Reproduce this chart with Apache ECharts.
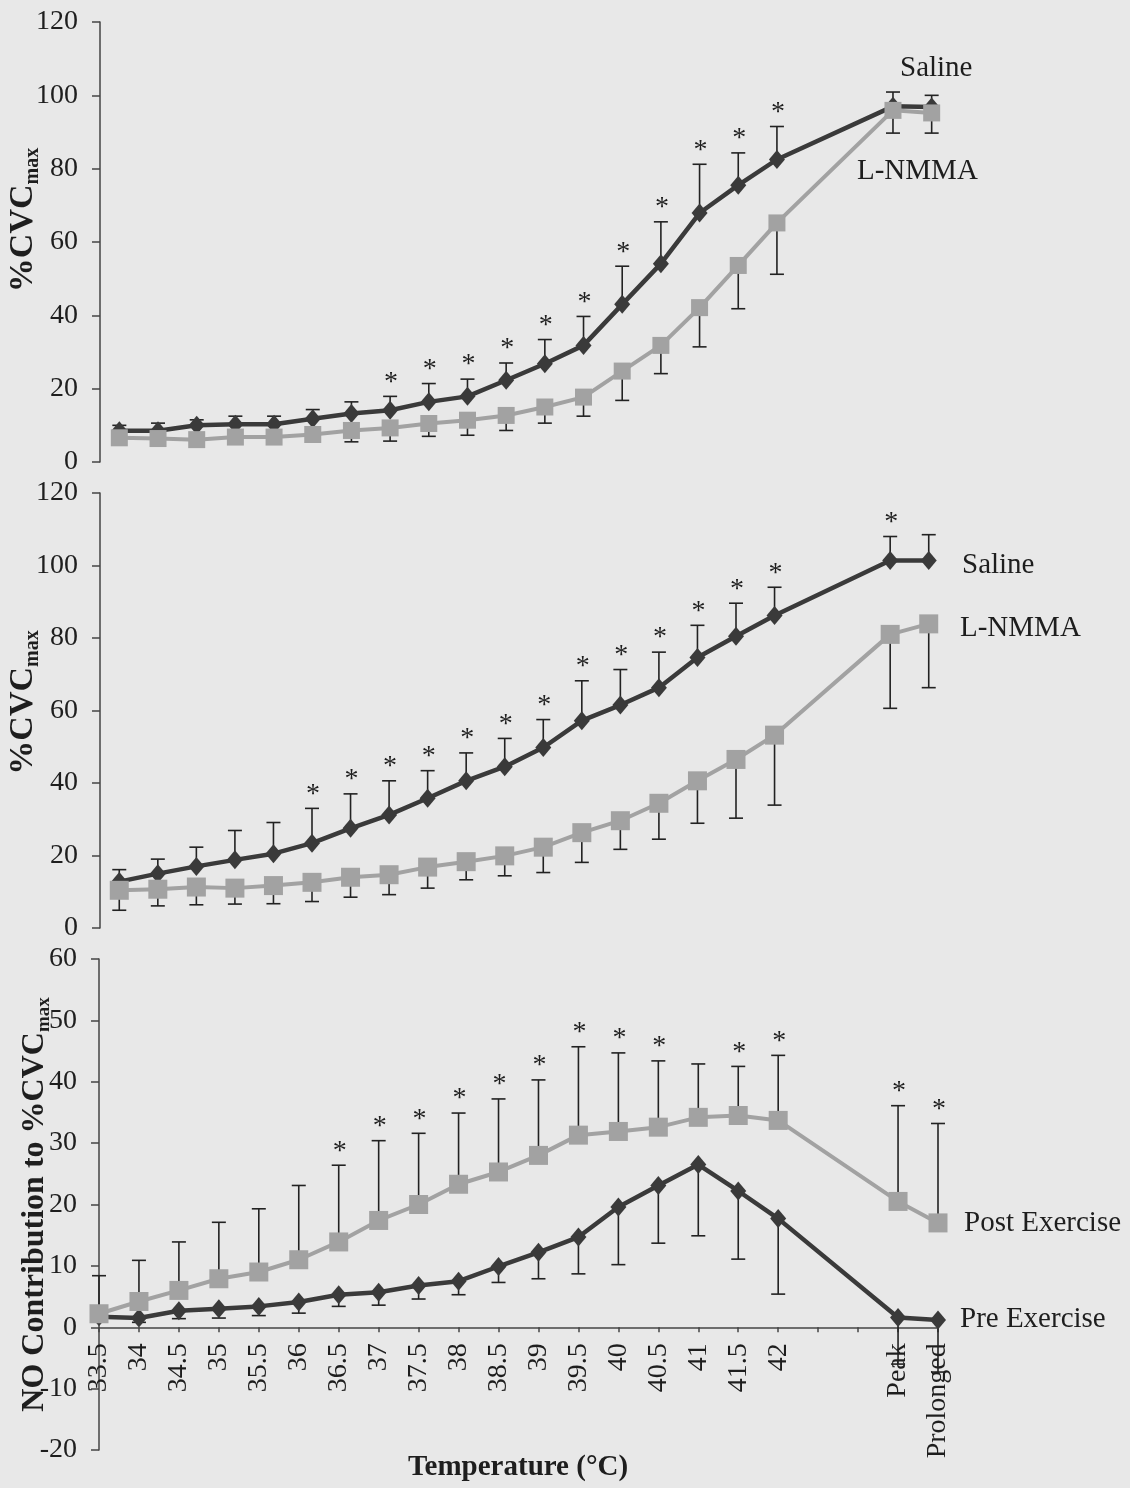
<!DOCTYPE html>
<html><head><meta charset="utf-8">
<script src="https://cdn.jsdelivr.net/npm/echarts@6/dist/echarts.min.js"></script>
<style>html,body{margin:0;padding:0;background:#e8e8e8;}#c{width:1130px;height:1488px;}</style>
</head><body><div id="c"></div>
<script>
const categories = ['33.5','34','34.5','35','35.5','36','36.5','37','37.5','38','38.5','39','39.5','40','40.5','41','41.5','42',' ','  ','Peak','Prolonged'];

// Panel A (top): %CVCmax
const salineA    = [8.5, 8.5, 10.0, 10.3, 10.3, 11.8, 13.2, 14.1, 16.4, 17.9, 22.3, 26.8, 31.8, 43.0, 54.1, 67.9, 75.5, 82.5, null, null, 97.0, 96.8];
const salineAUp  = [10.0, 10.6, 11.5, 12.5, 12.5, 14.3, 16.4, 17.9, 21.4, 22.6, 27.0, 33.4, 39.7, 53.4, 65.5, 81.2, 84.3, 91.5, null, null, 100.9, 100.0];
const starsA     = [0,0,0,0,0,0,0,1,1,1,1,1,1,1,1,1,1,1,0,0,0,0];
const lnmmaA     = [6.6, 6.4, 6.1, 6.8, 6.8, 7.5, 8.6, 9.3, 10.5, 11.4, 12.7, 15.0, 17.7, 24.8, 31.8, 42.1, 53.6, 65.2, null, null, 95.9, 95.2];
const lnmmaALow  = [5.0, 4.9, 4.6, 5.2, 5.3, 5.8, 5.5, 5.7, 7.0, 7.3, 8.6, 10.6, 12.5, 16.8, 24.1, 31.4, 41.8, 51.2, null, null, 89.7, 89.7];

// Panel B (middle): %CVCmax
const salineB    = [12.8, 15.0, 17.0, 18.8, 20.5, 23.4, 27.5, 31.2, 35.8, 40.6, 44.5, 49.8, 57.2, 61.5, 66.3, 74.6, 80.5, 86.2, null, null, 101.4, 101.4];
const salineBUp  = [16.1, 19.0, 22.3, 26.9, 29.1, 33.0, 37.0, 40.6, 43.4, 48.3, 52.3, 57.5, 68.2, 71.3, 76.1, 83.5, 89.6, 94.0, null, null, 108.0, 108.5];
const starsB     = [0,0,0,0,0,1,1,1,1,1,1,1,1,1,1,1,1,1,0,0,1,0];
const lnmmaB     = [10.4, 10.7, 11.3, 11.0, 11.7, 12.6, 14.0, 14.7, 16.8, 18.3, 19.9, 22.3, 26.3, 29.6, 34.4, 40.6, 46.5, 53.2, null, null, 81.0, 83.9];
const lnmmaBLow  = [4.9, 6.1, 6.4, 6.6, 6.7, 7.3, 8.5, 9.2, 11.0, 13.3, 14.4, 15.3, 18.1, 21.7, 24.5, 28.9, 30.3, 33.9, null, null, 60.6, 66.3];

// Panel C (bottom): NO contribution
const postC      = [2.2, 4.2, 6.0, 7.9, 9.0, 11.0, 13.9, 17.4, 20.0, 23.3, 25.3, 28.0, 31.3, 31.9, 32.6, 34.2, 34.5, 33.7, null, null, 20.5, 17.0];
const postCUp    = [8.4, 10.9, 13.9, 17.1, 19.3, 23.1, 26.4, 30.4, 31.6, 34.9, 37.2, 40.3, 45.7, 44.7, 43.4, 42.9, 42.5, 44.3, null, null, 36.1, 33.2];
const starsC     = [0,0,0,0,0,0,1,1,1,1,1,1,1,1,1,0,1,1,0,0,1,1];
const preC       = [1.7, 1.5, 2.7, 3.0, 3.4, 4.1, 5.3, 5.7, 6.8, 7.5, 9.9, 12.2, 14.7, 19.6, 23.1, 26.5, 22.2, 17.7, null, null, 1.6, 1.2];
const preCLow    = [1.0, 0.8, 1.4, 1.5, 1.9, 2.3, 3.4, 3.6, 4.6, 5.3, 7.3, 7.9, 8.7, 10.2, 13.7, 14.9, 11.1, 5.4, null, null, -6.0, -7.3];

const yTicksTop = {min: 0, max: 120, interval: 20};
const yTicksBot = {min: -20, max: 60, interval: 10};

const FONT = '"Liberation Serif", "Times New Roman", serif';
const DARK = '#3a3a3a', LIGHT = '#a2a2a2', BAR = '#222222', AXIS = '#444444', TXT = '#1e1e1e';

function errSeries(idx, base, ends, stars) {
  const data = [];
  base.forEach((v, i) => { if (v != null && ends[i] != null) data.push([i, v, ends[i], stars ? stars[i] : 0]); });
  return {
    type: 'custom', xAxisIndex: idx, yAxisIndex: idx, z: 1, silent: true,
    data,
    renderItem(params, api) {
      const p = api.coord([api.value(0), api.value(1)]);
      const e = api.coord([api.value(0), api.value(2)]);
      const children = [
        {type: 'line', shape: {x1: p[0], y1: p[1], x2: e[0], y2: e[1]}, style: {stroke: BAR, lineWidth: 1.6}},
        {type: 'line', shape: {x1: e[0] - 7, y1: e[1], x2: e[0] + 7, y2: e[1]}, style: {stroke: BAR, lineWidth: 1.6}}
      ];
      if (api.value(3)) {
        children.push({type: 'text', style: {text: '*', x: e[0] + 1, y: e[1] - 14, align: 'center', verticalAlign: 'middle', font: '28px ' + FONT, fill: TXT}});
      }
      return {type: 'group', children};
    }
  };
}

function lineSeries(idx, data, dark, size) {
  return {
    type: 'line', xAxisIndex: idx, yAxisIndex: idx, data, connectNulls: true,
    z: dark ? 2 : 3,
    symbol: dark ? 'diamond' : 'rect',
    symbolSize: dark ? [16, 19] : size,
    itemStyle: {color: dark ? DARK : LIGHT},
    lineStyle: {color: dark ? DARK : LIGHT, width: dark ? 4.5 : 4},
    animation: false
  };
}

const yLabel = {color: TXT, fontSize: 28, fontFamily: FONT, margin: 22};
const yAxisBase = {type: 'value', splitLine: {show: false}, axisLine: {show: true, lineStyle: {color: AXIS, width: 1.5}}, axisTick: {show: true, length: 8, lineStyle: {color: AXIS, width: 1.5}}, axisLabel: yLabel, nameLocation: 'middle', nameRotate: 90, nameMoveOverlap: false};
function cvcName(shift) {
  return {padding: [0, 0, 0, shift], rich: {a: {fontFamily: FONT, fontSize: 34, fontWeight: 'bold', color: TXT, lineHeight: 34}, b: {fontFamily: FONT, fontSize: 20, fontWeight: 'bold', color: TXT, lineHeight: 20, padding: [20, 0, 0, 0]}}};
}

const hiddenX = {type: 'category', data: categories, boundaryGap: true, axisLine: {show: false}, axisTick: {show: false}, axisLabel: {show: false}};

const option = {
  backgroundColor: '#e8e8e8',
  animation: false,
  grid: [
    {left: 100, width: 851, top: 22, height: 440, containLabel: false, outerBoundsMode: 'none'},
    {left: 100, width: 848, top: 493, height: 435, containLabel: false, outerBoundsMode: 'none'},
    {left: 99, width: 839, top: 959, height: 491, containLabel: false, outerBoundsMode: 'none'}
  ],
  xAxis: [
    Object.assign({gridIndex: 0}, hiddenX),
    Object.assign({gridIndex: 1}, hiddenX),
    {gridIndex: 2, type: 'category', data: categories, boundaryGap: false, position: 'bottom', offset: -122.75,
     axisLine: {show: true, onZero: false, lineStyle: {color: AXIS, width: 1.5}},
     axisTick: {show: true, length: 5, interval: 0, lineStyle: {color: AXIS, width: 1.5}},
     axisLabel: {interval: 0, rotate: 90, margin: 16, color: TXT, fontSize: 28, fontFamily: FONT}}
  ],
  yAxis: [
    Object.assign({}, yAxisBase, yTicksTop, {gridIndex: 0, name: '{a|%CVC}{b|max}', nameGap: 60, nameTextStyle: cvcName(44)}),
    Object.assign({}, yAxisBase, yTicksTop, {gridIndex: 1, name: '{a|%CVC}{b|max}', nameGap: 60, nameTextStyle: cvcName(16)}),
    Object.assign({}, yAxisBase, yTicksBot, {gridIndex: 2, name: '{a|NO Contribution to %CVC}{b|max}', nameGap: 48,
      nameTextStyle: {rich: {a: {fontFamily: FONT, fontSize: 32, fontWeight: 'bold', color: TXT, lineHeight: 32}, b: {fontFamily: FONT, fontSize: 19, fontWeight: 'bold', color: TXT, lineHeight: 19, padding: [18, 0, 0, 0]}}}})
  ],
  series: [
    errSeries(0, salineA, salineAUp, starsA),
    errSeries(0, lnmmaA, lnmmaALow, null),
    lineSeries(0, salineA, true),
    lineSeries(0, lnmmaA, false, 17),
    errSeries(1, salineB, salineBUp, starsB),
    errSeries(1, lnmmaB, lnmmaBLow, null),
    lineSeries(1, salineB, true),
    lineSeries(1, lnmmaB, false, 19),
    errSeries(2, postC, postCUp, starsC),
    errSeries(2, preC, preCLow, null),
    lineSeries(2, preC, true),
    lineSeries(2, postC, false, 19)
  ],
  graphic: [
    {type: 'text', style: {text: 'Saline', x: 900, y: 68, verticalAlign: 'middle', font: '29px ' + FONT, fill: TXT}},
    {type: 'text', style: {text: 'L-NMMA', x: 857, y: 171, verticalAlign: 'middle', font: '29px ' + FONT, fill: TXT}},
    {type: 'text', style: {text: 'Saline', x: 962, y: 565, verticalAlign: 'middle', font: '29px ' + FONT, fill: TXT}},
    {type: 'text', style: {text: 'L-NMMA', x: 960, y: 628, verticalAlign: 'middle', font: '29px ' + FONT, fill: TXT}},
    {type: 'text', style: {text: 'Post Exercise', x: 964, y: 1223, verticalAlign: 'middle', font: '29px ' + FONT, fill: TXT}},
    {type: 'text', style: {text: 'Pre Exercise', x: 960, y: 1319, verticalAlign: 'middle', font: '29px ' + FONT, fill: TXT}},
    {type: 'text', style: {text: 'Temperature (°C)', x: 518, y: 1468, align: 'center', verticalAlign: 'middle', font: 'bold 29px ' + FONT, fill: TXT}}
  ]
};
const chart = echarts.init(document.getElementById('c'), null, {renderer: 'canvas'});
chart.setOption(option);
</script></body></html>
